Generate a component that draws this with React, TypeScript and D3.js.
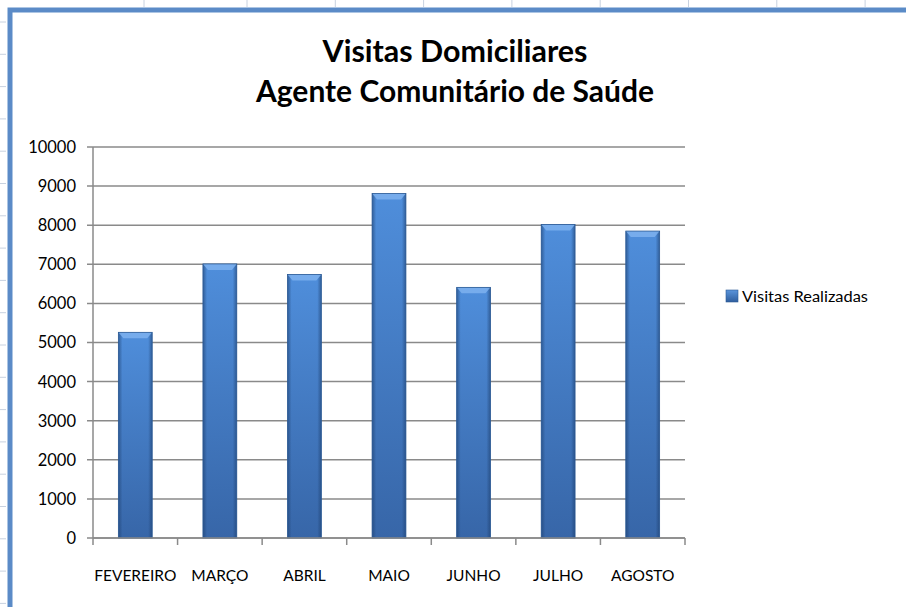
import * as d3 from "d3";

const months = ["FEVEREIRO", "MARÇO", "ABRIL", "MAIO", "JUNHO", "JULHO", "AGOSTO"];
const visits = [5260, 7010, 6740, 8810, 6410, 8020, 7850];
const yTicks = [0, 1000, 2000, 3000, 4000, 5000, 6000, 7000, 8000, 9000, 10000];
const titleLines = ["Visitas Domiciliares", "Agente Comunitário de Saúde"];
const seriesName = "Visitas Realizadas";

const W = 906;
const H = 607;
const font = "Lato, 'Open Sans', sans-serif";

export default function App() {
  const x = d3.scaleBand<string>().domain(months).range([93, 685]).paddingInner(0).paddingOuter(0);
  const y = d3.scaleLinear().domain([0, 10000]).range([538, 147]);
  const barW = x.bandwidth() * 0.4;
  const grid = "#8a8a8a";

  // faint spreadsheet cell marks around the frame
  const colMarks = [144, ...d3.range(247, W, 88.3)];
  const rowMarks = d3.range(22, H, 32.3);

  return (
    <svg width={W} height={H} style={{ position: "absolute", left: 0, top: 0, background: "#fff" }}>
      <defs>
        <linearGradient id="barV" x1="0" y1="0" x2="0" y2="1">
          <stop offset="0" stopColor="#4f8edb" />
          <stop offset="1" stopColor="#3766a8" />
        </linearGradient>
        <linearGradient id="barH" x1="0" y1="0" x2="1" y2="0">
          <stop offset="0" stopColor="#1d3f6e" stopOpacity="0.6" />
          <stop offset="0.12" stopColor="#1d3f6e" stopOpacity="0" />
          <stop offset="0.88" stopColor="#1d3f6e" stopOpacity="0" />
          <stop offset="1" stopColor="#1d3f6e" stopOpacity="0.6" />
        </linearGradient>
        <linearGradient id="legendG" x1="0" y1="0" x2="0" y2="1">
          <stop offset="0" stopColor="#5b95dc" />
          <stop offset="1" stopColor="#2f5e9e" />
        </linearGradient>
      </defs>

      {colMarks.map((cx, i) => (
        <line key={"c" + i} x1={cx} x2={cx} y1={0} y2={7} stroke="#c8d2e0" />
      ))}
      {rowMarks.map((ry, i) => (
        <line key={"r" + i} x1={0} x2={6} y1={ry} y2={ry} stroke="#c8d2e0" />
      ))}

      {/* window frame */}
      <path d={`M10,${H} V10 H${W}`} fill="none" stroke="#5b8bc7" strokeWidth={5} />

      {titleLines.map((t, i) => (
        <text
          key={t}
          x={455}
          y={62 + i * 40}
          textAnchor="middle"
          fontFamily={font}
          fontWeight={700}
          fontSize={30}
          textLength={i === 0 ? 265 : 398}
          lengthAdjust="spacingAndGlyphs"
          fill="#000"
        >
          {t}
        </text>
      ))}

      {/* gridlines and y axis */}
      {yTicks.map((t) => (
        <g key={t}>
          <line x1={87} x2={685} y1={y(t)} y2={y(t)} stroke={grid} strokeWidth={1.5} />
          <text x={76} y={y(t)} dy="0.36em" textAnchor="end" fontFamily={font} fontSize={16.5} fill="#000">
            {t}
          </text>
        </g>
      ))}
      <line x1={93} x2={93} y1={y(10000)} y2={y(0)} stroke={grid} strokeWidth={1.5} />

      {/* bars */}
      {months.map((m, i) => {
        const bx = (x(m) as number) + (x.bandwidth() - barW) / 2;
        const by = y(visits[i]);
        const bh = y(0) - by;
        return (
          <g key={m}>
            <rect x={bx} y={by} width={barW} height={bh} fill="url(#barV)" />
            <rect x={bx} y={by} width={barW} height={bh} fill="url(#barH)" />
            <polygon
              points={`${bx},${by} ${bx + barW},${by} ${bx + barW - 5},${by + 6} ${bx + 5},${by + 6}`}
              fill="#7eb1ee"
              opacity={0.85}
            />
            <rect x={bx} y={by} width={barW} height={bh} fill="none" stroke="#2c5a94" strokeWidth={0.8} />
          </g>
        );
      })}

      {/* category axis */}
      <line x1={93} x2={685} y1={y(0)} y2={y(0)} stroke={grid} strokeWidth={1.5} />
      {[...months.map((m) => x(m) as number), 685].map((tx, i) => (
        <line key={"t" + i} x1={tx} x2={tx} y1={y(0)} y2={y(0) + 7} stroke={grid} strokeWidth={1.5} />
      ))}
      {months.map((m) => (
        <text
          key={"l" + m}
          x={(x(m) as number) + x.bandwidth() / 2}
          y={581}
          textAnchor="middle"
          fontFamily={font}
          fontSize={15.5}
          fill="#000"
        >
          {m}
        </text>
      ))}

      {/* legend */}
      <rect x={726} y={290} width={12} height={12} fill="url(#legendG)" stroke="#2c5a94" strokeWidth={0.6} />
      <text x={742} y={302} fontFamily={font} fontSize={15.5} textLength={126} lengthAdjust="spacingAndGlyphs" fill="#000">
        {seriesName}
      </text>
    </svg>
  );
}
